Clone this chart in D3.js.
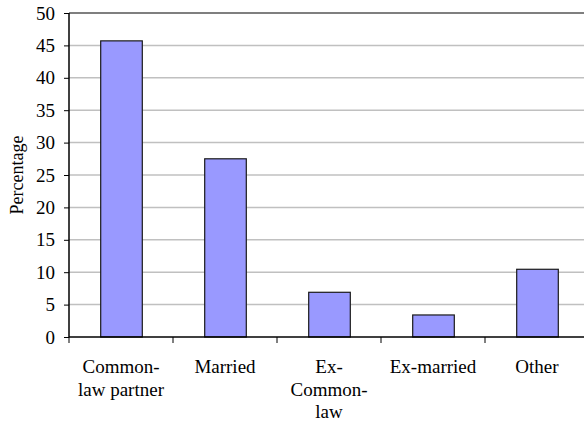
<!DOCTYPE html>
<html><head><meta charset="utf-8">
<script src="https://cdn.jsdelivr.net/npm/d3@7"></script>
<style>body{margin:0;background:#fff}svg{display:block}svg text{font-family:'Liberation Serif','Times New Roman','DejaVu Serif',serif !important;fill:#000}</style>
</head><body>
<script>
const categories = [["Common-","law partner"],["Married"],["Ex-","Common-","law"],["Ex-married"],["Other"]];
const categoryKeys = ["Common-law partner","Married","Ex-Common-law","Ex-married","Other"];
const values = [45.7, 27.5, 6.9, 3.4, 10.45];
const yTicks = [0,5,10,15,20,25,30,35,40,45,50];
const yTitle = "Percentage";

const W=584,H=421;
const FONT="Liberation Serif";
const m={left:69,right:589,top:13,bottom:337};
const svg=d3.select("body").append("svg").attr("width",W).attr("height",H);
const x=d3.scaleBand().domain(categoryKeys).range([m.left,m.right]).paddingInner(0.6).paddingOuter(0.3);
const xb=d3.scaleBand().domain(categoryKeys).range([m.left,m.right]);
const y=d3.scaleLinear().domain([0,50]).range([m.bottom,m.top]);

svg.append("g").selectAll("line").data(yTicks.filter(t=>t>0&&t<50)).join("line")
 .attr("x1",m.left).attr("x2",m.right).attr("y1",d=>y(d)).attr("y2",d=>y(d))
 .attr("stroke","#c0c0c0").attr("stroke-width",1.5);
svg.append("line").attr("x1",m.left).attr("x2",m.right).attr("y1",y(50)).attr("y2",y(50)).attr("stroke","#000").attr("stroke-width",1.2);

svg.append("g").selectAll("rect").data(values).join("rect")
 .attr("x",(d,i)=>x(categoryKeys[i])+0.5).attr("width",x.bandwidth())
 .attr("y",d=>y(d)).attr("height",d=>y(0)-y(d))
 .attr("fill","#9999ff").attr("stroke","#1a1a1a").attr("stroke-width",1.2);

const ya=svg.append("g").attr("transform",`translate(${m.left},0)`)
 .call(d3.axisLeft(y).tickValues(yTicks).tickSize(5).tickPadding(9));
ya.attr("font-family",FONT);
ya.select(".domain").attr("stroke","#000").attr("stroke-width",1.5).attr("d",`M0,${m.top}V${m.bottom}`);
ya.selectAll(".tick line").attr("stroke","#000");
ya.selectAll("text").attr("font-size",19).attr("font-family",FONT).attr("fill","#000");

const xa=svg.append("g").attr("transform",`translate(0,${m.bottom})`).attr("font-family",FONT);
xa.append("line").attr("x1",m.left).attr("x2",m.right).attr("stroke","#000").attr("stroke-width",1.5);
xa.selectAll("line.t").data(categoryKeys).join("line").attr("class","t")
 .attr("x1",d=>xb(d)).attr("x2",d=>xb(d)).attr("y1",0).attr("y2",6).attr("stroke","#000");
categories.forEach((lines,i)=>{
  const cx=xb(categoryKeys[i])+xb.bandwidth()/2;
  const t=xa.append("text").attr("text-anchor","middle").attr("font-size",19).attr("font-family",FONT);
  lines.forEach((l,j)=>t.append("tspan").attr("x",cx).attr("y",36+j*22.5).text(l));
});

svg.append("text").attr("transform",`translate(23,175) rotate(-90)`).attr("text-anchor","middle")
 .attr("font-size",18).attr("font-family",FONT).text(yTitle);
</script>
</body></html>
